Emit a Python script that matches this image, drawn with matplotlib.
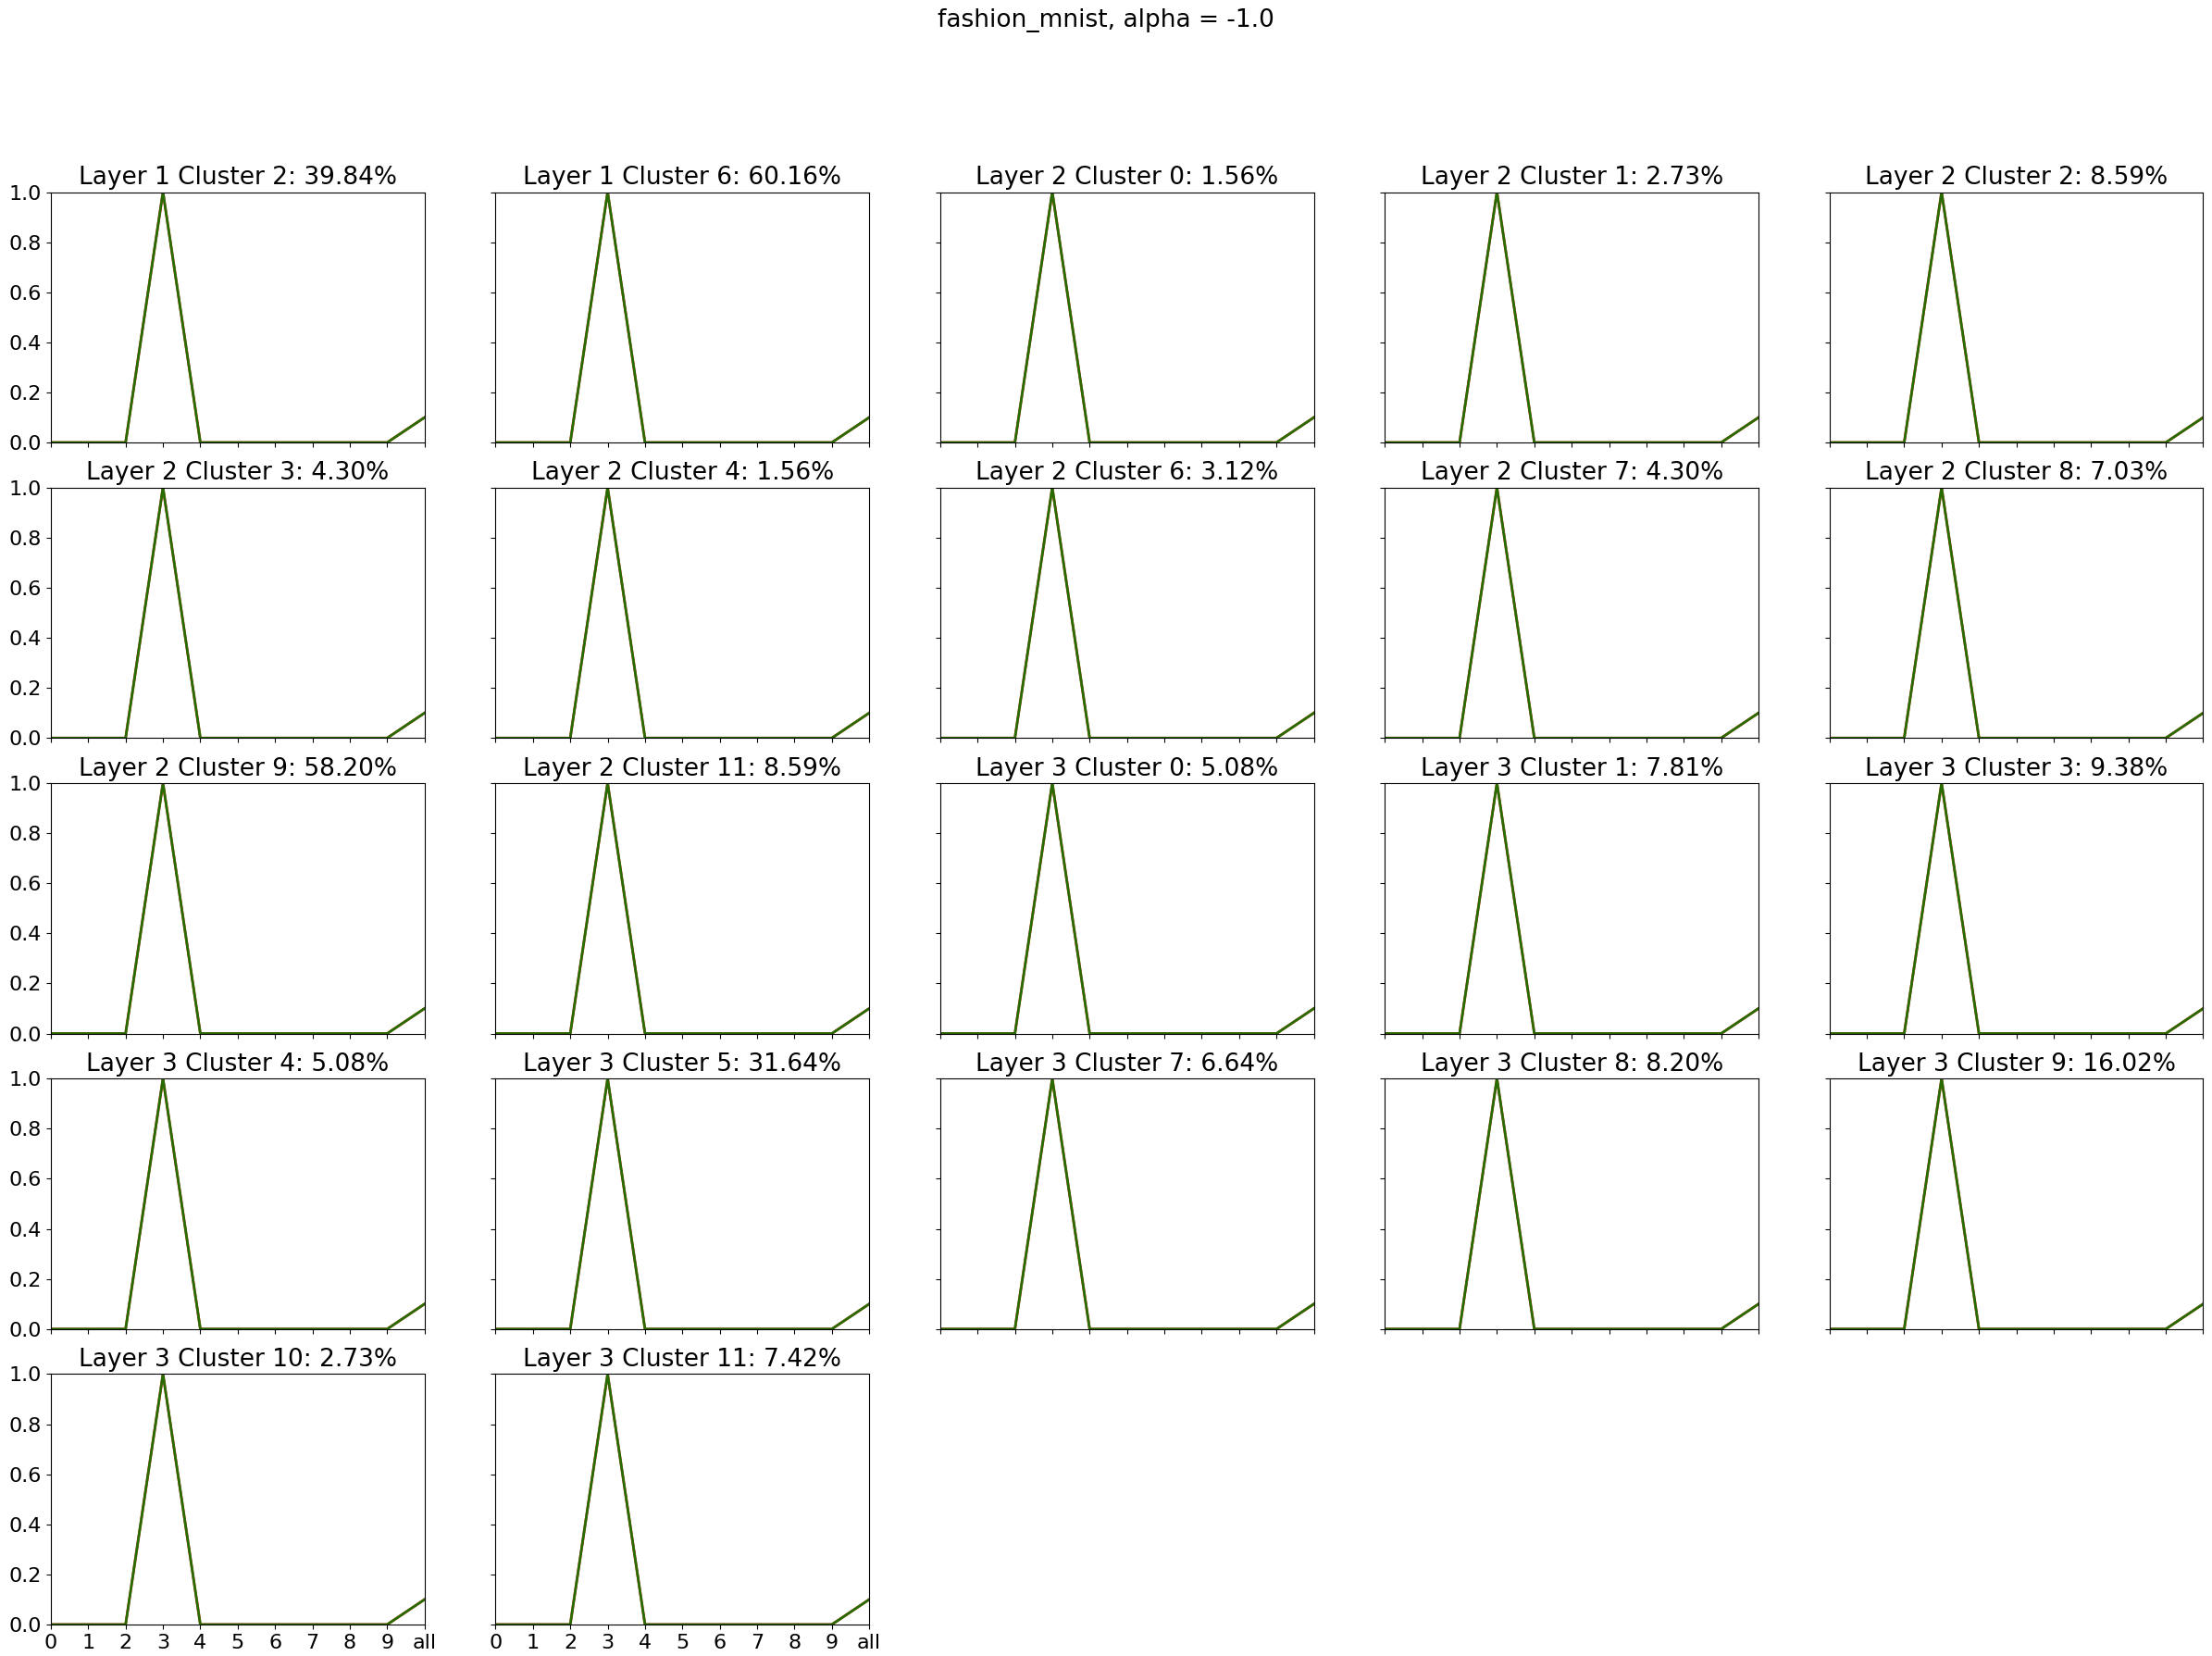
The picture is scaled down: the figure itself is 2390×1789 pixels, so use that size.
import numpy as np
import matplotlib.pyplot as plt

titles = [
    "Layer 1 Cluster 2: 39.84%", "Layer 1 Cluster 6: 60.16%", "Layer 2 Cluster 0: 1.56%",
    "Layer 2 Cluster 1: 2.73%", "Layer 2 Cluster 2: 8.59%", "Layer 2 Cluster 3: 4.30%",
    "Layer 2 Cluster 4: 1.56%", "Layer 2 Cluster 6: 3.12%", "Layer 2 Cluster 7: 4.30%",
    "Layer 2 Cluster 8: 7.03%", "Layer 2 Cluster 9: 58.20%", "Layer 2 Cluster 11: 8.59%",
    "Layer 3 Cluster 0: 5.08%", "Layer 3 Cluster 1: 7.81%", "Layer 3 Cluster 3: 9.38%",
    "Layer 3 Cluster 4: 5.08%", "Layer 3 Cluster 5: 31.64%", "Layer 3 Cluster 7: 6.64%",
    "Layer 3 Cluster 8: 8.20%", "Layer 3 Cluster 9: 16.02%", "Layer 3 Cluster 10: 2.73%",
    "Layer 3 Cluster 11: 7.42%",
]
xlabels = ["0", "1", "2", "3", "4", "5", "6", "7", "8", "9", "all"]
values = [0, 0, 0, 1.0, 0, 0, 0, 0, 0, 0, 0.1]

fig, axes = plt.subplots(5, 5, figsize=(23.9, 17.89), dpi=100, sharex=True, sharey=True)
fig.subplots_adjust(left=0.023, right=0.996, top=0.884, bottom=0.019, wspace=0.19, hspace=0.18)
x = np.arange(len(xlabels))
flat = axes.flatten()
for i, ax in enumerate(flat):
    if i >= len(titles):
        ax.axis('off')
        continue
    ax.plot(x, values, color='red', lw=2)
    ax.plot(x, values, color='green', lw=2, alpha=0.85)
    ax.set_title(titles[i], fontsize=19)
    ax.set_xlim(0, 10)
    ax.set_ylim(0, 1)
    ax.set_xticks(x)
    ax.set_xticklabels(xlabels)
    ax.tick_params(labelsize=16)
fig.suptitle("fashion_mnist, alpha = -1.0", fontsize=19, y=0.995)
fig.savefig("out.png", dpi=100)
